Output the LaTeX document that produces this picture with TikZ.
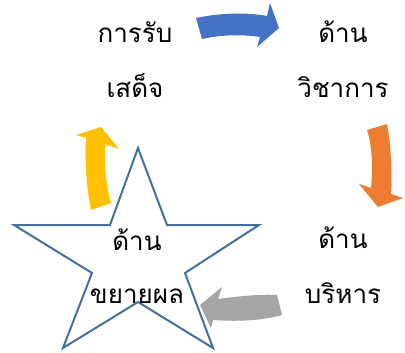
\documentclass[tikz,border=0pt]{standalone}
\usepackage{fontspec}
\newfontfamily\thaifont[Script=Thai]{Loma}
\definecolor{cycblue}{HTML}{4472C4}
\definecolor{cycorange}{HTML}{ED7D31}
\definecolor{cycgray}{HTML}{A5A5A5}
\definecolor{cycyellow}{HTML}{FFC000}
\definecolor{staredge}{HTML}{41719C}

\begin{document}
\begin{tikzpicture}[x=1pt,y=-1pt]
\useasboundingbox (0,0) rectangle (405,353);
% curved arrows of the cycle
\begin{scope}[line join=round]
    \fill[cycblue] (196,18) .. controls (220,13) and (245,12) .. (267,16)
        -- (270,3) -- (279,28) -- (257,47) -- (260,37)
        .. controls (240,34) and (220,35) .. (202,39) -- cycle;
    \fill[cycorange] (367,130) -- (387,124)
        .. controls (391,145) and (392,170) .. (391,194)
        -- (403,198) -- (378,207) -- (359,184) -- (371,188)
        .. controls (373,165) and (372,145) .. (367,130) -- cycle;
    \fill[cycgray] (277,295) -- (282,315)
        .. controls (265,320) and (240,322) .. (213,320)
        -- (211,328) -- (200,305) -- (222,287) -- (218,299)
        .. controls (240,296) and (262,294) .. (277,295) -- cycle;
    \fill[cycyellow] (91,210) -- (111,203)
        .. controls (106,185) and (104,165) .. (105,144)
        -- (119,149) -- (101,127) -- (76,135) -- (86,138)
        .. controls (85,160) and (86,185) .. (91,210) -- cycle;
\end{scope}
% the star
\draw[staredge,line width=2pt] (138,148) -- (167,225) -- (259,225) -- (185,273)
    -- (213,348) -- (138,302) -- (63,348) -- (92,273) -- (14,225) -- (110,225) -- cycle;
\begin{scope}[every node/.style={anchor=base,inner sep=0pt,
              font=\thaifont\fontsize{26}{30}\selectfont}]
    \node (rub1) at (135,43) {การรับ};
    \node (rub2) at (135,98) {เสด็จ};
    \node (vicha1) at (343,43) {ด้าน};
    \node (vicha2) at (343,98) {วิชาการ};
    \node (bori1) at (343,248) {ด้าน};
    \node (bori2) at (343,303) {บริหาร};
    \node (khayai1) at (137,250) {ด้าน};
    \node (khayai2) at (137,303) {ขยายผล};
\end{scope}
\end{tikzpicture}
\end{document}
